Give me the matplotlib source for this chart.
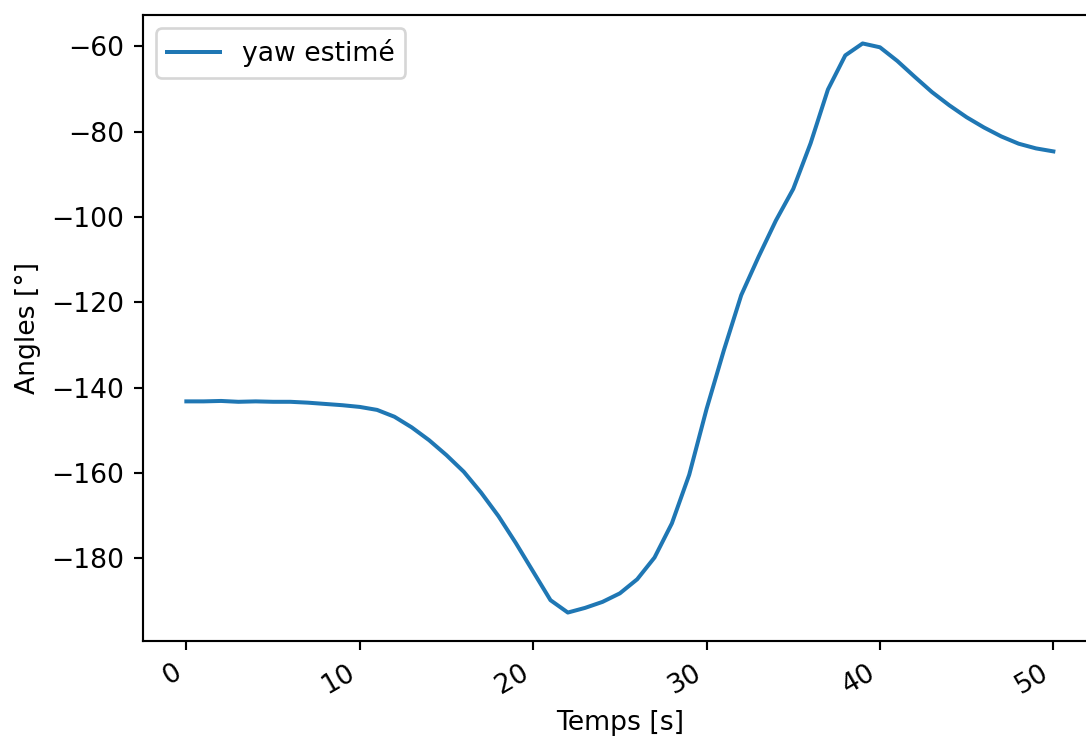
import matplotlib
matplotlib.use("Agg")
import matplotlib.pyplot as plt

# Yaw estimate sampled once per second
temps = list(range(0, 51))
yaw_estime = [
    -143.2, -143.2, -143.1, -143.3, -143.2, -143.3, -143.3, -143.5, -143.8, -144.1,
    -144.5, -145.2, -146.8, -149.3, -152.3, -155.8, -159.7, -164.6, -170.1, -176.4,
    -183.1, -189.8, -192.7, -191.6, -190.2, -188.2, -184.9, -179.8, -171.8, -160.4,
    -145.0, -131.2, -118.3, -109.3, -100.8, -93.4, -82.7, -70.1, -62.1, -59.3,
    -60.2, -63.4, -67.1, -70.7, -73.8, -76.6, -79.0, -81.1, -82.8, -83.9,
    -84.6,
]

fig = plt.figure(figsize=(1086 / 192, 738 / 192), dpi=192)
ax = fig.add_axes([143 / 1086, 97 / 738, 953.7 / 1086, 626 / 738])

ax.plot(temps, yaw_estime, label="yaw estimé")
ax.set_xlabel("Temps [s]")
ax.set_ylabel("Angles [°]")
ax.legend(loc="upper left")

for lbl in ax.get_xticklabels():
    lbl.set_rotation(30)
    lbl.set_ha("right")

fig.savefig("out.png", dpi=192)
